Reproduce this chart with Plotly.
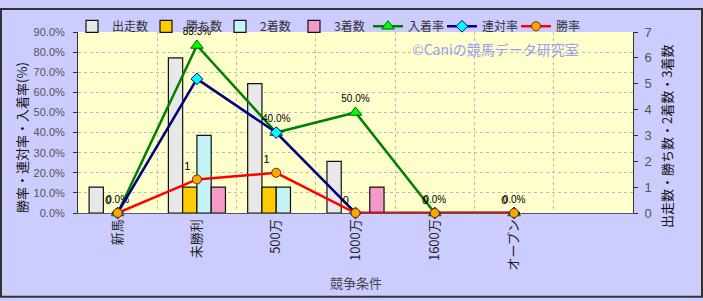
import plotly.graph_objects as go

categories = ["新馬", "未勝利", "500万", "1000万", "1600万", "オープン"]
starts = [1, 6, 5, 2, 0, 0]        # 出走数
wins = [0, 1, 1, 0, 0, 0]          # 勝ち数
seconds = [0, 3, 1, 0, 0, 0]       # 2着数
thirds = [0, 1, 0, 1, 0, 0]        # 3着数
place_rate = [0.0, 0.833, 0.40, 0.50, 0.0, 0.0]   # 入着率
rentai_rate = [0.0, 0.667, 0.40, 0.0, 0.0, 0.0]   # 連対率
win_rate = [0.0, 0.167, 0.20, 0.0, 0.0, 0.0]      # 勝率

place_labels = [f"{v*100:.1f}%" for v in place_rate]
win_labels = [str(w) for w in wins]

FONT = "Liberation Sans, Arial, Noto Sans CJK JP, sans-serif"
JFONT = "Noto Sans CJK JP, sans-serif"

fig = go.Figure()

bar_specs = [
    ("出走数", starts, "#E8E8E8"),
    ("勝ち数", wins, "#FFCC00"),
    ("2着数", seconds, "#C4F4F4"),
    ("3着数", thirds, "#F49AC8"),
]
for name, vals, col in bar_specs:
    fig.add_trace(go.Bar(
        x=categories, y=[v if v else None for v in vals], name=name, yaxis="y",
        marker=dict(color=col, line=dict(color="#111111", width=1.2)),
    ))

fig.add_trace(go.Scatter(
    x=categories, y=place_rate, name="入着率", yaxis="y2",
    mode="lines+markers+text", text=place_labels, textposition="top center",
    textfont=dict(size=10, color="#000000", family=FONT), cliponaxis=False,
    line=dict(color="#008000", width=2.5),
    marker=dict(symbol="triangle-up", size=11, color="#00FF00",
                line=dict(color="#006400", width=1)),
))
fig.add_trace(go.Scatter(
    x=categories, y=rentai_rate, name="連対率", yaxis="y2",
    mode="lines+markers", cliponaxis=False,
    line=dict(color="#000080", width=2.5),
    marker=dict(symbol="diamond", size=9, color="#00FFFF",
                line=dict(color="#000080", width=1)),
))
fig.add_trace(go.Scatter(
    x=categories, y=win_rate, name="勝率", yaxis="y2",
    mode="lines+markers+text", text=win_labels, textposition="top left",
    textfont=dict(size=11, color="#000000", family=FONT), cliponaxis=False,
    line=dict(color="#FF0000", width=2.5),
    marker=dict(symbol="circle", size=9, color="#FFA500",
                line=dict(color="#663300", width=1)),
))

# geometry of plot area in px
L, R, T, B = 78, 70, 25, 88
W, H = 703, 301
pw, ph = W - L - R, H - T - B

def px_x(p):
    return (p - L) / pw

def px_y(p):
    return (H - B - p) / ph

fig.add_shape(type="rect", xref="paper", yref="paper",
              x0=px_x(1), x1=px_x(W - 1), y0=px_y(H - 1), y1=px_y(1),
              line=dict(color="#333333", width=2), layer="below")

def note(text, x, y, size, color, angle=0):
    fig.add_annotation(text=text, xref="paper", yref="paper",
                       x=px_x(x), y=px_y(y), xanchor="center", yanchor="middle",
                       showarrow=False, textangle=angle,
                       font=dict(family=JFONT, size=size, color=color))

note("©Caniの競馬データ研究室", 495, 43, 14, "#9C9CF0")
note("勝率・連対率・入着率(%)", 22, 135, 13, "#111111", -90)
note("出走数・勝ち数・2着数・3着数", 667, 134, 13, "#111111", -90)
note("競争条件", 356, 285, 13, "#444444")

fig.update_layout(
    width=W, height=H,
    margin=dict(l=L, r=R, t=T, b=B, pad=0),
    paper_bgcolor="#CCCCFF",
    plot_bgcolor="#FFFFCC",
    barmode="group", bargap=0.28, bargroupgap=0,
    font=dict(family=FONT, size=12, color="#444444"),
    showlegend=True,
    legend=dict(orientation="h", x=px_x(72), y=px_y(4), xanchor="left", yanchor="top",
                bgcolor="rgba(0,0,0,0)", font=dict(family=JFONT, size=12, color="#333333"),
                tracegroupgap=0, entrywidth=29, entrywidthmode="pixels"),
    xaxis=dict(type="category", categoryorder="array", categoryarray=categories,
               range=[-0.5, 6.5], tickson="boundaries", tickangle=-90, automargin=False,
               showgrid=True, gridcolor="#BBBBBB", griddash="dot", gridwidth=1,
               showline=True, linecolor="#555555", linewidth=1, layer="below traces",
               ticks="", tickfont=dict(family=JFONT, size=13, color="#222222")),
    yaxis=dict(side="right", range=[0, 7], dtick=1, showgrid=False, automargin=False,
               showline=True, linecolor="#333333", linewidth=1,
               ticks="outside", ticklen=4, tickcolor="#333333", ticklabelstandoff=4,
               tickfont=dict(size=13, color="#555555")),
    yaxis2=dict(overlaying="y", side="left", range=[0, 0.9], dtick=0.1, tickformat=".1%",
                automargin=False,
                showgrid=True, gridcolor="#BBBBBB", griddash="dot", gridwidth=1,
                showline=True, linecolor="#333333", linewidth=1,
                ticks="outside", ticklen=4, tickcolor="#333333", ticklabelstandoff=6,
                tickfont=dict(size=11, color="#555555")),
)

fig.write_html("out.html")
